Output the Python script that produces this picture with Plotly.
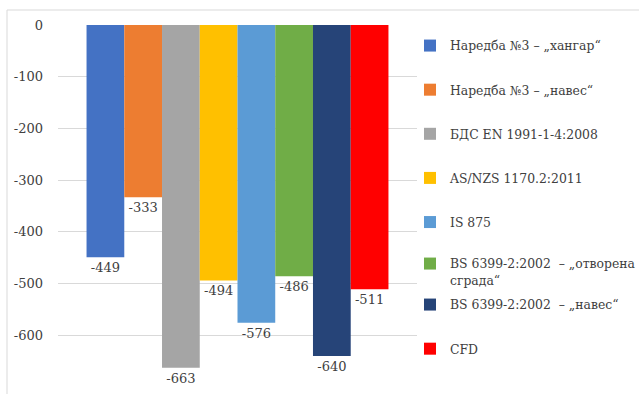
import plotly.graph_objects as go

# Wind pressure results by design standard / method
names = [
    "Наредба №3 – „хангар“",
    "Наредба №3 – „навес“",
    "БДС EN 1991-1-4:2008",
    "AS/NZS 1170.2:2011",
    "IS 875",
    "BS 6399-2:2002  – „отворена<br>сграда“",
    "BS 6399-2:2002  – „навес“",
    "CFD",
]
values = [-449, -333, -663, -494, -576, -486, -640, -511]
colors = ["#4472C4", "#ED7D31", "#A5A5A5", "#FFC000",
          "#5B9BD5", "#70AD47", "#264478", "#FF0000"]
y_ticks = [0, -100, -200, -300, -400, -500, -600, -700]

FONT = "DejaVu Serif"
FS = 13
LFS = 12.4
TXT = "#404040"

# legend groups: items 1-5, the two-line item 6, items 7-8
legend_of = ["legend"] * 5 + ["legend2"] + ["legend3"] * 2

fig = go.Figure()
for i, (n, v, c) in enumerate(zip(names, values, colors)):
    fig.add_trace(go.Bar(
        x=[""], y=[v], name=n,
        marker=dict(color=c, line=dict(width=0)),
        text=[str(v)], textposition="outside", cliponaxis=False,
        textfont=dict(family=FONT, size=FS, color=TXT),
        legendgroup=f"g{i}",
        legend=legend_of[i],
    ))

W, H = 639, 394
L, R, T, B = 58, 222, 25, 7
pw, ph = W - L - R, H - T - B

def px_x(x):
    return (x - L) / pw

def px_y(y):
    return (H - B - y) / ph

legend_common = dict(
    xref="container", yref="container",
    xanchor="left", yanchor="top",
    font=dict(family=FONT, size=LFS, color=TXT),
    bgcolor="rgba(0,0,0,0)", borderwidth=0,
    tracegroupgap=25, itemclick=False, valign="top",
    maxheight=400,
)
LX = 410 / W

fig.update_layout(
    width=W, height=H,
    margin=dict(l=L, r=R, t=T, b=B, autoexpand=False),
    paper_bgcolor="white", plot_bgcolor="white",
    barmode="group", bargap=0.159, bargroupgap=0,
    font=dict(family=FONT, size=FS, color=TXT),
    showlegend=True,
    legend=dict(x=LX, y=1 - 31 / H, **legend_common),
    legend2=dict(x=LX, y=1 - 249 / H, **legend_common),
    legend3=dict(x=LX, y=1 - 290 / H, **legend_common),
    xaxis=dict(showticklabels=False, showgrid=False, zeroline=False,
               showline=False, ticks=""),
    yaxis=dict(range=[-700, 0], tickvals=y_ticks,
               ticktext=[str(t) for t in y_ticks],
               showgrid=True, gridcolor="#D9D9D9", gridwidth=1,
               zeroline=False, showline=False, ticks="",
               ticklabelstandoff=14,
               tickfont=dict(family=FONT, size=FS, color=TXT)),
    shapes=[dict(type="rect", xref="paper", yref="paper",
                 x0=px_x(7), x1=px_x(700), y0=px_y(420), y1=px_y(10),
                 line=dict(color="#D9D9D9", width=1), layer="below")],
)

fig.write_html("out.html")
